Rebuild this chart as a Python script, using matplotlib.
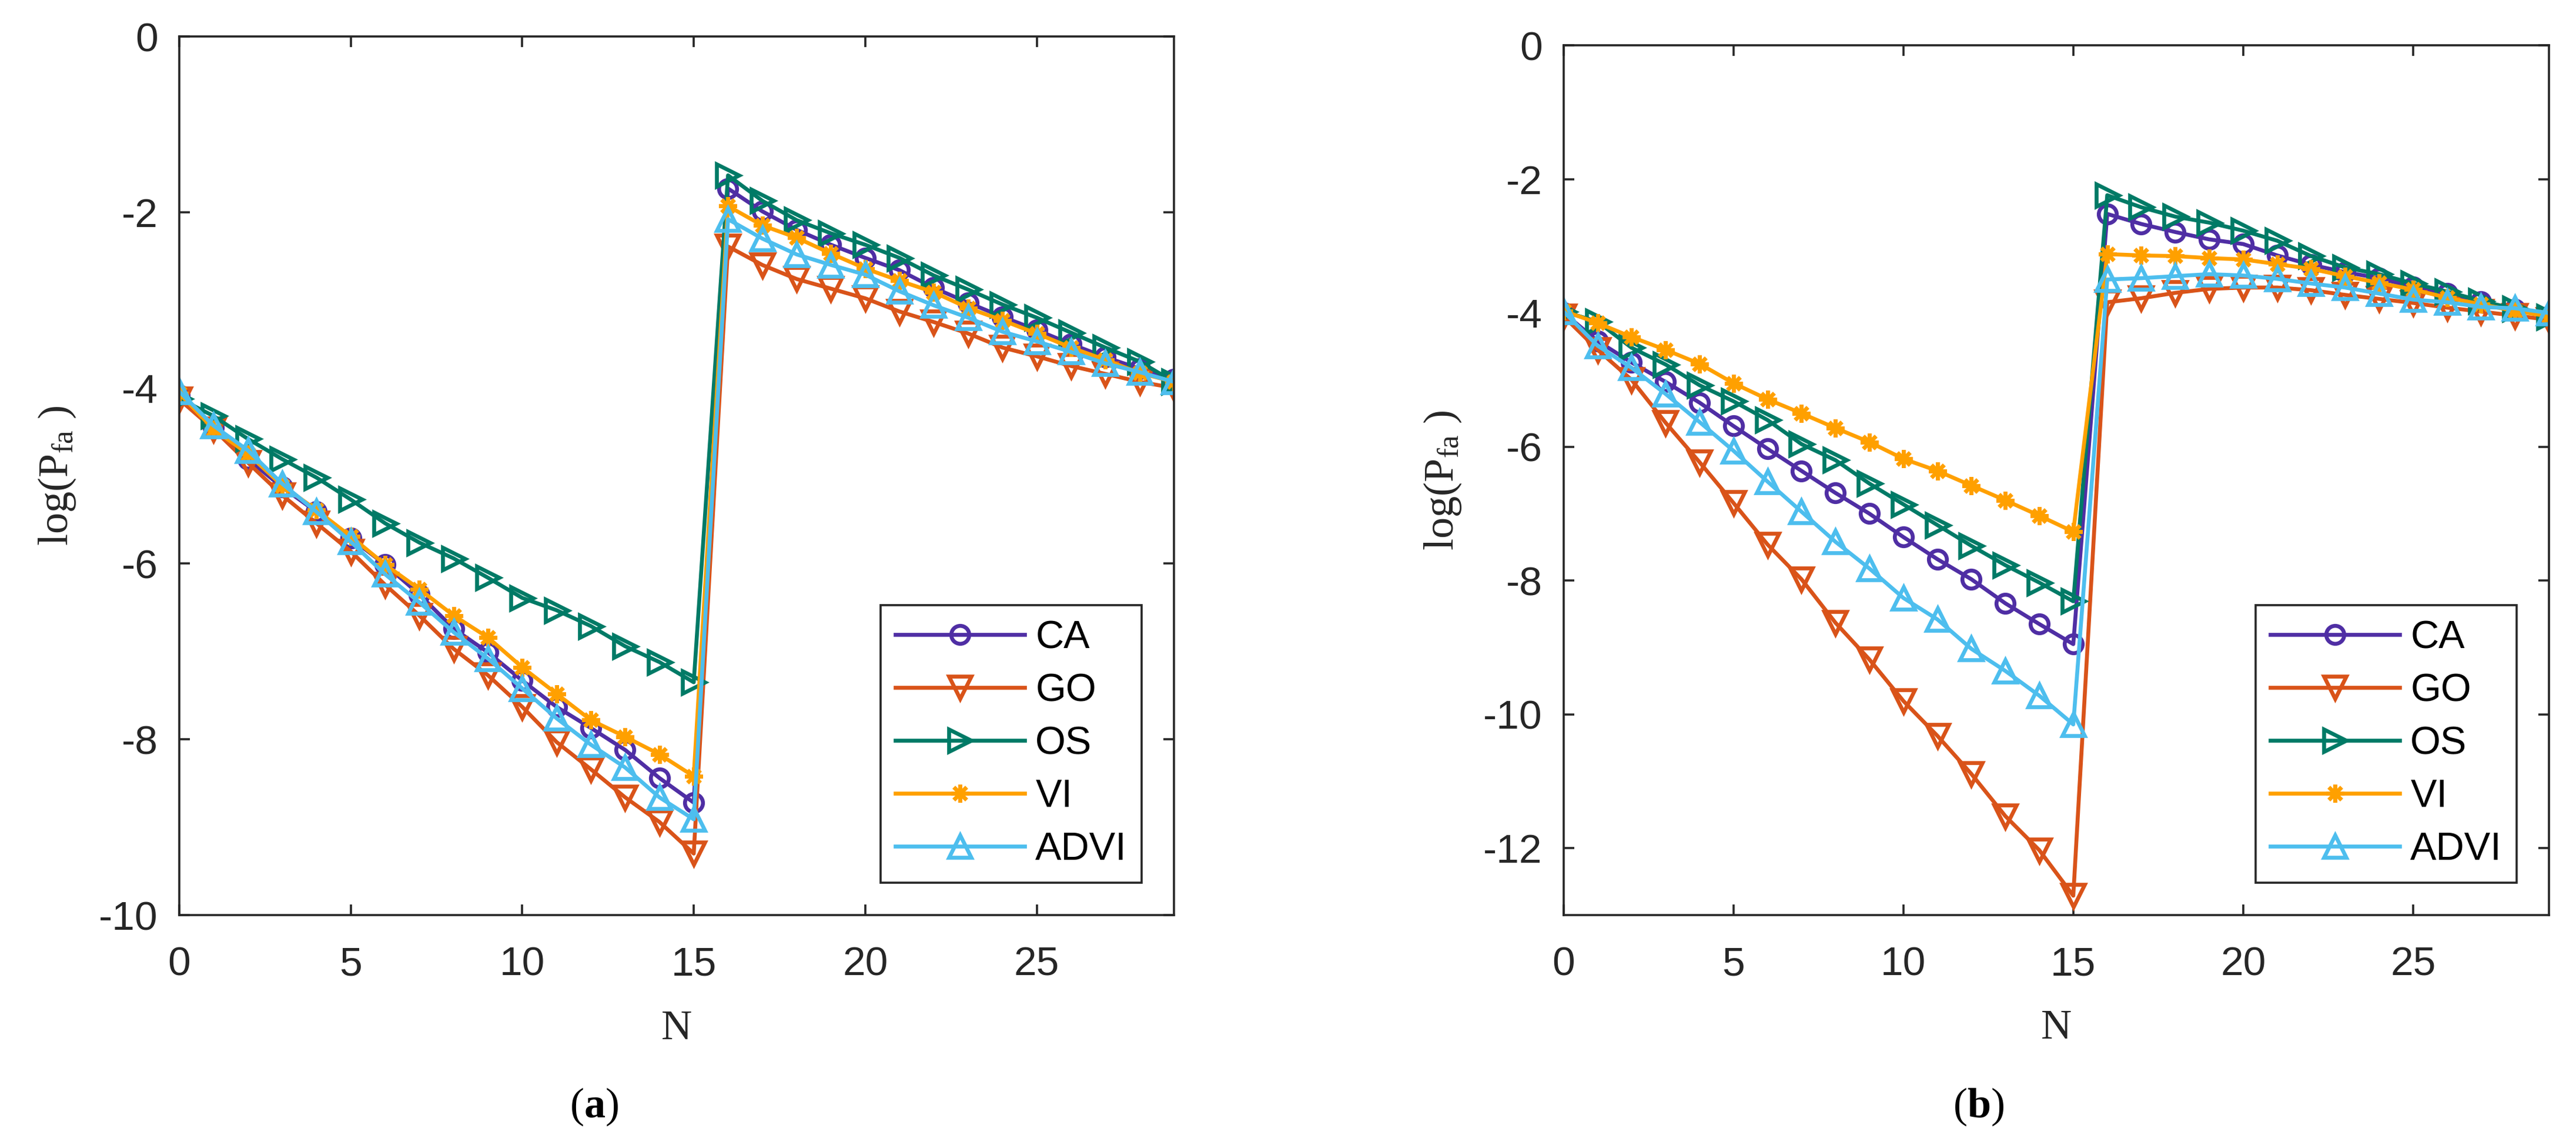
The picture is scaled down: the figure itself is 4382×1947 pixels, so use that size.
import numpy as np
import matplotlib
matplotlib.use('Agg')
import matplotlib.pyplot as plt

plt.rcParams['font.family'] = ['Liberation Sans', 'DejaVu Sans']
plt.rcParams['axes.unicode_minus'] = False
plt.rcParams['mathtext.fontset'] = 'custom'
plt.rcParams['mathtext.rm'] = 'Liberation Serif'
plt.rcParams['mathtext.it'] = 'Liberation Serif:italic'
plt.rcParams['mathtext.bf'] = 'Liberation Serif:bold'

# data
N = np.arange(30)
labels = ['CA', 'GO', 'OS', 'VI', 'ADVI']

# (a)
ca_a = [-4.08, -4.45, -4.81, -5.13, -5.41, -5.71, -6.01, -6.35, -6.74, -7.01,
        -7.33, -7.63, -7.87, -8.12, -8.44, -8.72,
        -1.73, -1.99, -2.20, -2.37, -2.52, -2.66, -2.86, -3.03, -3.19, -3.34,
        -3.50, -3.65, -3.78, -3.90]
go_a = [-4.13, -4.47, -4.85, -5.22, -5.54, -5.86, -6.24, -6.59, -6.97, -7.27,
        -7.63, -8.03, -8.34, -8.66, -8.94, -9.30,
        -2.39, -2.60, -2.76, -2.87, -2.98, -3.13, -3.25, -3.38, -3.54, -3.64,
        -3.75, -3.84, -3.93, -4.00]
os_a = [-4.12, -4.32, -4.58, -4.81, -5.02, -5.27, -5.54, -5.76, -5.94, -6.16,
        -6.39, -6.53, -6.71, -6.94, -7.12, -7.35,
        -1.58, -1.87, -2.09, -2.24, -2.37, -2.52, -2.72, -2.88, -3.05, -3.20,
        -3.37, -3.54, -3.70, -3.93]
vi_a = [-4.06, -4.47, -4.75, -5.11, -5.39, -5.69, -6.01, -6.29, -6.59, -6.84,
        -7.18, -7.48, -7.78, -7.97, -8.17, -8.42,
        -1.93, -2.15, -2.29, -2.47, -2.64, -2.78, -2.91, -3.09, -3.23, -3.38,
        -3.54, -3.68, -3.83, -3.93]
advi_a = [-4.04, -4.43, -4.71, -5.09, -5.41, -5.75, -6.12, -6.44, -6.78, -7.08,
          -7.42, -7.76, -8.06, -8.32, -8.66, -8.91,
          -2.08, -2.30, -2.48, -2.60, -2.71, -2.90, -3.06, -3.20, -3.36, -3.47,
          -3.59, -3.72, -3.82, -3.93]

# (b)
ca_b = [-4.00, -4.42, -4.74, -5.03, -5.34, -5.69, -6.03, -6.36, -6.69, -7.00,
        -7.35, -7.68, -7.98, -8.34, -8.65, -8.95,
        -2.52, -2.67, -2.79, -2.90, -2.97, -3.14, -3.28, -3.39, -3.48, -3.61,
        -3.71, -3.83, -3.95, -4.05]
go_b = [-4.05, -4.55, -5.00, -5.64, -6.23, -6.84, -7.46, -7.98, -8.63, -9.18,
        -9.80, -10.32, -10.89, -11.52, -12.03, -12.71,
        -3.84, -3.78, -3.70, -3.64, -3.62, -3.62, -3.66, -3.73, -3.79, -3.85,
        -3.92, -3.98, -4.04, -4.10]
os_b = [-3.98, -4.13, -4.52, -4.77, -5.08, -5.32, -5.60, -5.96, -6.20, -6.55,
        -6.86, -7.17, -7.48, -7.77, -8.03, -8.31,
        -2.24, -2.42, -2.56, -2.65, -2.77, -2.92, -3.15, -3.32, -3.42, -3.56,
        -3.68, -3.82, -3.94, -4.06]
vi_b = [-3.97, -4.15, -4.36, -4.55, -4.76, -5.05, -5.29, -5.50, -5.72, -5.93,
        -6.18, -6.36, -6.58, -6.80, -7.03, -7.27,
        -3.12, -3.14, -3.15, -3.18, -3.20, -3.27, -3.34, -3.45, -3.55, -3.65,
        -3.77, -3.87, -3.97, -4.05]
advi_b = [-3.98, -4.49, -4.82, -5.21, -5.63, -6.06, -6.52, -6.97, -7.42, -7.82,
          -8.26, -8.58, -9.02, -9.35, -9.72, -10.15,
          -3.50, -3.48, -3.45, -3.42, -3.44, -3.49, -3.56, -3.62, -3.71, -3.80,
          -3.84, -3.91, -3.93, -4.00]

colors = ['#4F2EA4', '#D95319', '#007A66', '#FFA000', '#4DBEEE']
markers = ['o', 'v', '>', (8, 2, 0), '^']
msizes = [11, 14, 14, 11, 14]
axcol = '#262626'

fig = plt.figure(figsize=(21.91, 9.735), dpi=200)
ax_a = fig.add_axes([0.0696, 0.2008, 0.3861, 0.7673])
ax_b = fig.add_axes([0.6070, 0.2008, 0.3825, 0.7596])

panels = [(ax_a, [ca_a, go_a, os_a, vi_a, advi_a], -10, '(a)', 0.2307),
          (ax_b, [ca_b, go_b, os_b, vi_b, advi_b], -13, '(b)', 0.768)]

for ax, series, ymin, tag, tx in panels:
    for y, lab, c, m, ms in zip(series, labels, colors, markers, msizes):
        ax.plot(N, y, color=c, lw=2.4, marker=m, ms=ms, mew=2.4,
                mfc='none', mec=c, label=lab)
    ax.set_xlim(0, 29)
    ax.set_ylim(ymin, 0)
    ax.set_xticks([0, 5, 10, 15, 20, 25])
    ax.set_yticks(np.arange(-12 if ymin < -10 else -10, 1, 2))
    ax.tick_params(direction='in', top=True, right=True, length=6.5,
                   width=1.3, labelsize=25, colors=axcol)
    ax.tick_params(axis='x', pad=19)
    ax.tick_params(axis='y', pad=13)
    for s in ax.spines.values():
        s.set_linewidth(1.3)
        s.set_color(axcol)
    ax.set_xlabel('N', family='Liberation Serif', fontsize=26, color=axcol)
    ax.xaxis.set_label_coords(0.5, -0.108)
    ax.set_ylabel(r'$\mathrm{log(P_{fa}\ )}$', fontsize=26, color=axcol)
    ax.yaxis.set_label_coords(-0.102, 0.5)
    leg = ax.legend(loc='lower right', fontsize=24, handlelength=3.3,
                    handletextpad=0.28, labelspacing=0.42, borderpad=0.37,
                    borderaxespad=0.83, fancybox=False, framealpha=1)
    leg.get_frame().set_edgecolor(axcol)
    leg.get_frame().set_linewidth(1.3)
    fig.text(tx, 0.0334, '(' + r'$\mathbf{' + tag[1] + '}$' + ')',
             family='Liberation Serif', fontsize=26, ha='center', va='center')

fig.savefig('out.png', dpi=200)
